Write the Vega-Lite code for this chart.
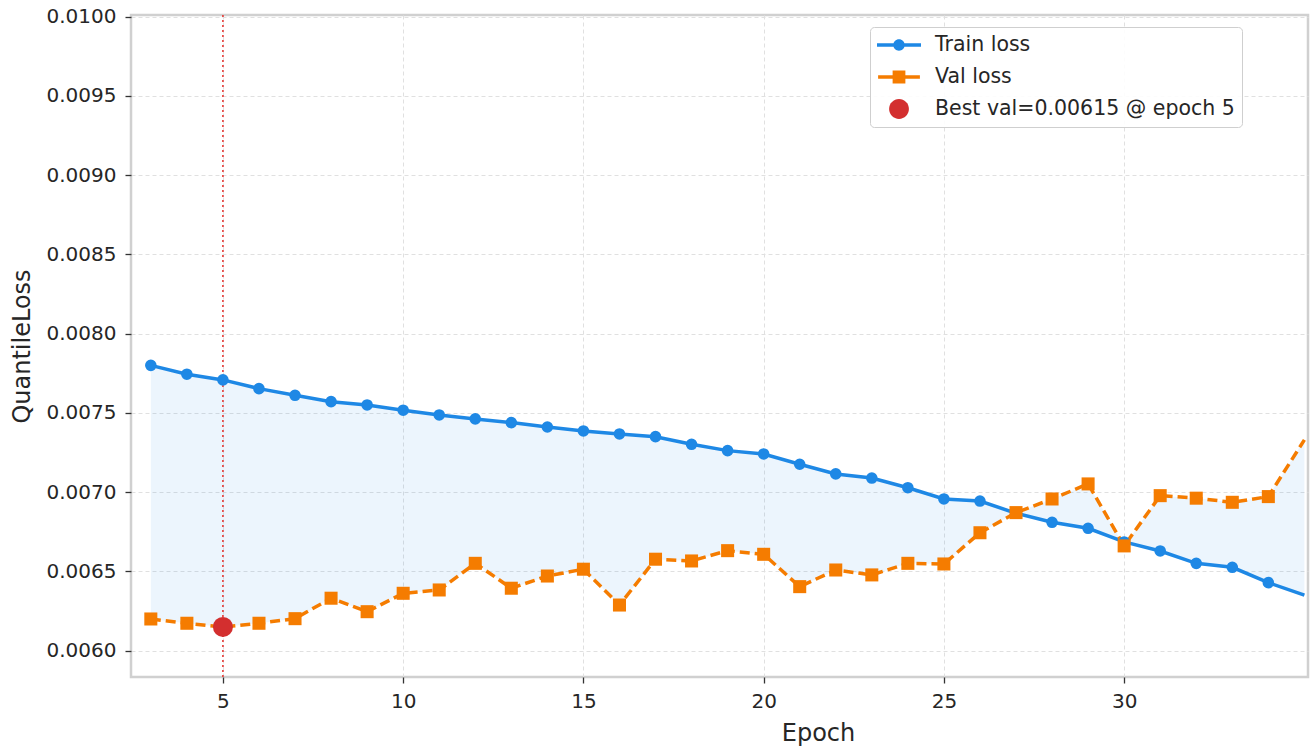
{
  "$schema": "https://vega.github.io/schema/vega-lite/v6.json",
  "width": 1177,
  "height": 662,
  "autosize": {"type": "none"},
  "padding": {"left": 131, "top": 15, "right": 7, "bottom": 72},
  "background": "white",
  "config": {
    "font": "DejaVu Sans",
    "view": {"stroke": "#d0d0d0", "strokeWidth": 2.5},
    "axis": {
      "domain": false,
      "grid": true,
      "gridColor": "#e0e0e0",
      "gridDash": [4, 3],
      "gridWidth": 1,
      "tickColor": "#333333",
      "tickSize": 6,
      "tickWidth": 1.3,
      "labelFontSize": 20,
      "labelColor": "#262626",
      "titleFontSize": 24,
      "titleFontWeight": "normal",
      "titleColor": "#262626"
    }
  },
  "datasets": {
    "loss": [
      {"epoch": 3, "train": 0.00780, "val": 0.00620},
      {"epoch": 4, "train": 0.007744, "val": 0.006173},
      {"epoch": 5, "train": 0.007708, "val": 0.00615},
      {"epoch": 6, "train": 0.007653, "val": 0.006173},
      {"epoch": 7, "train": 0.007611, "val": 0.006202},
      {"epoch": 8, "train": 0.007571, "val": 0.006331},
      {"epoch": 9, "train": 0.00755, "val": 0.006246},
      {"epoch": 10, "train": 0.007517, "val": 0.006362},
      {"epoch": 11, "train": 0.007487, "val": 0.006383},
      {"epoch": 12, "train": 0.007462, "val": 0.006551},
      {"epoch": 13, "train": 0.007439, "val": 0.006394},
      {"epoch": 14, "train": 0.007411, "val": 0.006471},
      {"epoch": 15, "train": 0.007386, "val": 0.006514},
      {"epoch": 16, "train": 0.007367, "val": 0.006288},
      {"epoch": 17, "train": 0.00735, "val": 0.006577},
      {"epoch": 18, "train": 0.007302, "val": 0.006566},
      {"epoch": 19, "train": 0.007262, "val": 0.006631},
      {"epoch": 20, "train": 0.007241, "val": 0.006608},
      {"epoch": 21, "train": 0.007176, "val": 0.006404},
      {"epoch": 22, "train": 0.007115, "val": 0.006509},
      {"epoch": 23, "train": 0.007089, "val": 0.006478},
      {"epoch": 24, "train": 0.007028, "val": 0.006551},
      {"epoch": 25, "train": 0.006957, "val": 0.006547},
      {"epoch": 26, "train": 0.006944, "val": 0.006744},
      {"epoch": 27, "train": 0.006867, "val": 0.006871},
      {"epoch": 28, "train": 0.00681, "val": 0.006957},
      {"epoch": 29, "train": 0.006772, "val": 0.007052},
      {"epoch": 30, "train": 0.006686, "val": 0.006661},
      {"epoch": 31, "train": 0.006629, "val": 0.006978},
      {"epoch": 32, "train": 0.006551, "val": 0.006962},
      {"epoch": 33, "train": 0.006526, "val": 0.006936},
      {"epoch": 34, "train": 0.006429, "val": 0.006972},
      {"epoch": 35, "train": 0.00635, "val": 0.00733}
    ],
    "legendRows": [
      {"series": "Train loss"},
      {"series": "Val loss"},
      {"series": "Best val=0.00615 @ epoch 5"}
    ]
  },
  "data": {"name": "loss"},
  "encoding": {
    "x": {
      "field": "epoch",
      "type": "quantitative",
      "scale": {"domain": [2.45, 35.1], "nice": false, "zero": false},
      "axis": {
        "title": "Epoch",
        "values": [5, 10, 15, 20, 25, 30],
        "labelPadding": 8,
        "titlePadding": 10,
        "titleX": 687
      }
    }
  },
  "layer": [
    {
      "mark": {"type": "area", "color": "#1e88e5", "opacity": 0.085, "clip": true},
      "encoding": {
        "y": {
          "field": "val",
          "type": "quantitative",
          "scale": {"domain": [0.005834, 0.01001], "nice": false, "zero": false},
          "axis": {
            "title": "QuantileLoss",
            "values": [0.006, 0.0065, 0.007, 0.0075, 0.008, 0.0085, 0.009, 0.0095, 0.01],
            "format": ".4f",
            "labelPadding": 9,
            "titlePadding": 12
          }
        },
        "y2": {"field": "train"}
      }
    },
    {
      "transform": [{"filter": "datum.epoch == 5"}],
      "mark": {"type": "rule", "color": "#e53935", "strokeDash": [2, 3], "strokeWidth": 1.6},
      "encoding": {}
    },
    {
      "mark": {"type": "line", "color": "#1e88e5", "strokeWidth": 3.5, "clip": true},
      "encoding": {"y": {"field": "train", "type": "quantitative"}}
    },
    {
      "mark": {"type": "line", "color": "#f57c00", "strokeWidth": 3.5, "strokeDash": [10, 5], "clip": true},
      "encoding": {"y": {"field": "val", "type": "quantitative"}}
    },
    {
      "transform": [{"filter": "datum.epoch <= 34"}],
      "mark": {"type": "point", "shape": "circle", "filled": true, "color": "#1e88e5", "opacity": 1, "size": 135},
      "encoding": {"y": {"field": "train", "type": "quantitative"}}
    },
    {
      "transform": [{"filter": "datum.epoch <= 34"}],
      "mark": {"type": "point", "shape": "square", "filled": true, "color": "#f57c00", "opacity": 1, "size": 170},
      "encoding": {"y": {"field": "val", "type": "quantitative"}}
    },
    {
      "transform": [{"filter": "datum.epoch == 5"}],
      "mark": {"type": "point", "shape": "circle", "filled": true, "color": "#d32f2f", "opacity": 1, "size": 400},
      "encoding": {"y": {"field": "val", "type": "quantitative"}}
    },
    {
      "data": {"name": "legendRows"},
      "mark": {"type": "point", "filled": true, "opacity": 0, "size": 1936},
      "encoding": {
        "x": {"value": 0},
        "y": {"value": 0},
        "color": {
          "field": "series",
          "type": "nominal",
          "scale": {
            "domain": ["Train loss", "Val loss", "Best val=0.00615 @ epoch 5"],
            "range": ["#1e88e5", "#f57c00", "#d32f2f"]
          },
          "legend": {
            "title": null,
            "orient": "none",
            "legendX": 739,
            "legendY": 12,
            "labelFontSize": 20.5,
            "labelColor": "#262626",
            "labelFont": "DejaVu Sans",
            "labelLimit": 500,
            "symbolSize": 1936,
            "clipHeight": 22,
            "rowPadding": 10,
            "padding": 7,
            "labelOffset": 14,
            "strokeColor": "#cfcfcf",
            "fillColor": "rgba(255,255,255,0.9)",
            "cornerRadius": 4,
            "symbolStrokeWidth": 0,
            "encode": {"symbols": {"update": {"opacity": {"value": 1}}}}
          }
        },
        "shape": {
          "field": "series",
          "type": "nominal",
          "scale": {
            "domain": ["Train loss", "Val loss", "Best val=0.00615 @ epoch 5"],
            "range": [
              "M-1,-0.08H1V0.08H-1Z M0.26,0A0.26,0.26 0 1,1 -0.26,0A0.26,0.26 0 1,1 0.26,0Z",
              "M-0.95,-0.08H0.95V0.08H-0.95Z M-0.29,-0.29H0.29V0.29H-0.29Z",
              "M0.45,0A0.45,0.45 0 1,1 -0.45,0A0.45,0.45 0 1,1 0.45,0Z"
            ]
          },
          "legend": {
            "title": null,
            "orient": "none",
            "legendX": 739,
            "legendY": 12,
            "labelFontSize": 20.5,
            "labelColor": "#262626",
            "labelFont": "DejaVu Sans",
            "labelLimit": 500,
            "symbolSize": 1936,
            "clipHeight": 22,
            "rowPadding": 10,
            "padding": 7,
            "labelOffset": 14,
            "strokeColor": "#cfcfcf",
            "fillColor": "rgba(255,255,255,0.9)",
            "cornerRadius": 4,
            "symbolStrokeWidth": 0,
            "encode": {"symbols": {"update": {"opacity": {"value": 1}}}}
          }
        }
      }
    }
  ]
}
